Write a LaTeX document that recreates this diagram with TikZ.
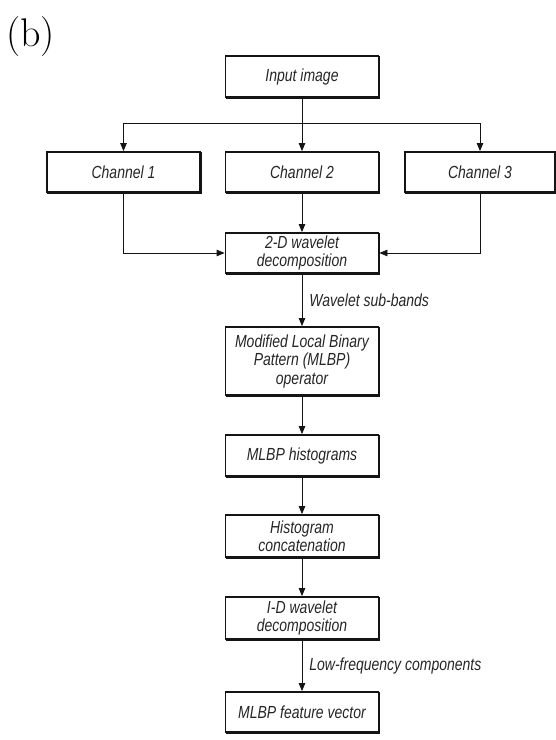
\documentclass[tikz,border=0pt]{standalone}
\usepackage{fontspec}
\usetikzlibrary{arrows.meta}
\newfontfamily\boxfont{Liberation Sans}[FakeStretch=0.8]
\definecolor{inkline}{HTML}{141414}
\definecolor{inktext}{HTML}{262626}
\tikzset{
  blk/.style={draw=inkline, line width=1.8pt, fill=white, minimum width=153pt,
    inner sep=2pt, align=center, text=inktext,
    preaction={draw=inkline, line width=1.4pt,
      transform canvas={shift={(0.9pt,-0.9pt)}}},
    font=\boxfont\itshape\fontsize{17.5}{18.5}\selectfont},
  conn/.style={draw=inkline, line width=0.8pt},
  arr/.style={conn, -{Triangle[length=8pt,width=6.5pt]}},
  lab/.style={text=inktext, inner sep=0pt, anchor=west, xshift=7pt,
    font=\boxfont\itshape\fontsize{17.5}{18.5}\selectfont}
}
\begin{document}
\begin{tikzpicture}[x=1pt, y=-1pt]
  \useasboundingbox (0,0) rectangle (556,740);

  \node[anchor=base west, inner sep=0pt, font=\fontsize{40}{44}\selectfont] (tag) at (6,46) {(b)};

  % main column of boxes
  \node[blk, minimum height=41pt] (in) at (302,76.5) {Input image};
  \node[blk, minimum height=40pt] (c1) at (123.5,172) {Channel 1};
  \node[blk, minimum height=40pt] (c2) at (302,172) {Channel 2};
  \node[blk, minimum height=40pt, minimum width=150pt] (c3) at (480,172) {Channel 3};
  \node[blk, minimum height=40pt] (wd) at (302,253) {2-D wavelet\\decomposition};
  \node[blk, minimum height=68pt] (op) at (302,361) {Modified Local Binary\\Pattern (MLBP)\\operator};
  \node[blk, minimum height=41pt] (hi) at (302,455.5) {MLBP histograms};
  \node[blk, minimum height=42pt] (hc) at (302,536) {Histogram\\concatenation};
  \node[blk, minimum height=42pt] (od) at (302,618) {I-D wavelet\\decomposition};
  \node[blk, minimum height=40pt] (fv) at (302,712) {MLBP feature vector};

  % split of the input into three channels
  \coordinate (split) at (302,123);
  \draw[conn] (in) -- (split);
  \draw[arr] (split) -| (c1);
  \draw[arr] (split) -- (c2);
  \draw[arr] (split) -| (c3);

  % channels merge into the 2-D decomposition
  \draw[arr] (c1) |- (wd);
  \draw[arr] (c2) -- (wd);
  \draw[arr] (c3) |- (wd);

  % processing chain
  \draw[arr] (wd) -- node[lab] (lsb) {Wavelet sub-bands} (op);
  \draw[arr] (op) -- (hi);
  \draw[arr] (hi) -- (hc);
  \draw[arr] (hc) -- (od);
  \draw[arr] (od) -- node[lab] (llf) {Low-frequency components} (fv);
\end{tikzpicture}
\end{document}
